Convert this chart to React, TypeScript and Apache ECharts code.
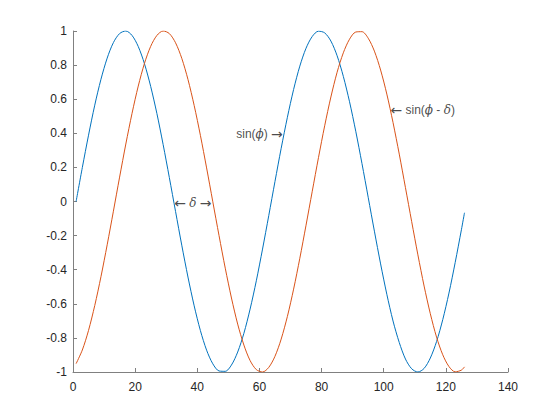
import React, { useEffect, useRef } from "react";
import * as echarts from "echarts";

// sample positions (x index) and curve values
const xSamples = [
  1, 3, 5, 7, 9, 11, 13, 15, 17, 19, 21, 23, 25, 27, 29, 31, 33, 35, 37, 39,
  41, 43, 45, 47, 49, 51, 53, 55, 57, 59, 61, 63, 65, 67, 69, 71, 73, 75, 77, 79,
  81, 83, 85, 87, 89, 91, 93, 95, 97, 99, 101, 103, 105, 107, 109, 111, 113, 115, 117, 119,
  121, 123, 125, 126,
];

const sinPhi = [
  0, 0.199, 0.389, 0.565, 0.717, 0.841, 0.932, 0.985, 1.0, 0.974,
  0.909, 0.808, 0.675, 0.516, 0.335, 0.141, -0.058, -0.256, -0.443, -0.612,
  -0.757, -0.872, -0.952, -0.994, -0.996, -0.959, -0.883, -0.773, -0.631, -0.465,
  -0.279, -0.083, 0.117, 0.312, 0.494, 0.657, 0.794, 0.899, 0.968, 0.999,
  0.989, 0.941, 0.855, 0.734, 0.585, 0.412, 0.223, 0.025, -0.174, -0.366,
  -0.544, -0.701, -0.827, -0.924, -0.981, -1.0, -0.979, -0.918, -0.822, -0.693,
  -0.537, -0.358, -0.166, -0.066,
];

const sinPhiMinusDelta = [
  -0.951, -0.871, -0.756, -0.610, -0.441, -0.254, -0.057, 0.143, 0.337, 0.517,
  0.677, 0.810, 0.910, 0.974, 1.0, 0.985, 0.931, 0.840, 0.716, 0.563,
  0.388, 0.197, -0.002, -0.200, -0.391, -0.566, -0.719, -0.842, -0.933, -0.986,
  -1.0, -0.973, -0.908, -0.807, -0.674, -0.514, -0.333, -0.139, 0.060, 0.257,
  0.444, 0.613, 0.758, 0.872, 0.952, 0.994, 0.996, 0.958, 0.882, 0.771,
  0.630, 0.463, 0.278, 0.081, -0.118, -0.313, -0.496, -0.658, -0.795, -0.899,
  -0.968, -0.999, -0.989, -0.970,
];

const annotationTexts = [
  "{a|sin(}{b|ϕ}{a|) }{c|→}",
  "{c|←}{a| sin(}{b|ϕ}{a| - }{b|δ}{a|)}",
  "{c|←}{a| }{b|δ}{a| }{c|→}",
];
const annotationX = [67.7, 102.0, 38.6];
const annotationY = [0.394, 0.537, -0.01];
const annotationSide = ["left", "right", "inside"];

const BLUE = "#0072BD";
const ORANGE = "#D95319";
const AXIS = "#808080";
const TEXT = "#262626";

export default function App() {
  const ref = useRef<HTMLDivElement>(null);

  useEffect(() => {
    if (!ref.current) return;
    const chart = echarts.init(ref.current, null, { renderer: "svg" });

    const blueData = xSamples.map((x, i) => [x, sinPhi[i]]);
    const redData = xSamples.map((x, i) => [x, sinPhiMinusDelta[i]]);
    const annData = annotationTexts.map((t, i) => ({
      value: [annotationX[i], annotationY[i]],
      label: {
        show: true,
        position: annotationSide[i],
        distance: 0,
        formatter: t,
      },
    }));

    chart.setOption({
      animation: false,
      grid: { left: 73, right: 52, top: 31, bottom: 48 },
      xAxis: {
        type: "value",
        min: 0,
        max: 140,
        interval: 20,
        axisLine: { onZero: false, lineStyle: { color: AXIS, width: 1 } },
        axisTick: { inside: true, length: 4, lineStyle: { color: AXIS } },
        axisLabel: { color: TEXT, fontSize: 12, fontFamily: "Liberation Sans", margin: 9 },
        splitLine: { show: false },
      },
      yAxis: {
        type: "value",
        min: -1,
        max: 1,
        interval: 0.2,
        axisLine: { show: true, onZero: false, lineStyle: { color: AXIS, width: 1 } },
        axisTick: { show: true, inside: true, length: 4, lineStyle: { color: AXIS } },
        axisLabel: {
          color: TEXT,
          fontSize: 12,
          fontFamily: "Liberation Sans",
          margin: 6,
          formatter: (v: number) => String(Math.round(v * 10) / 10),
        },
        splitLine: { show: false },
      },
      series: [
        {
          type: "line",
          data: blueData,
          showSymbol: false,
          smooth: 0.3,
          lineStyle: { color: BLUE, width: 1 },
          itemStyle: { color: BLUE },
          silent: true,
        },
        {
          type: "line",
          data: redData,
          showSymbol: false,
          smooth: 0.3,
          lineStyle: { color: ORANGE, width: 1 },
          itemStyle: { color: ORANGE },
          silent: true,
        },
        {
          type: "scatter",
          data: annData,
          symbolSize: 1,
          itemStyle: { color: "transparent" },
          silent: true,
          label: {
            show: true,
            color: "#000",
            rich: {
              a: { fontFamily: "Liberation Sans", fontSize: 12, color: "#1a1a1a" },
              b: {
                fontFamily: "DejaVu Serif",
                fontStyle: "italic",
                fontSize: 12,
                color: "#1a1a1a",
              },
              c: { fontFamily: "DejaVu Sans", fontSize: 14, color: "#1a1a1a" },
            },
          },
        },
      ],
    });

    return () => chart.dispose();
  }, []);

  return (
    <div
      ref={ref}
      style={{ position: "fixed", left: 0, top: 0, width: 560, height: 420, background: "#fff" }}
    />
  );
}
